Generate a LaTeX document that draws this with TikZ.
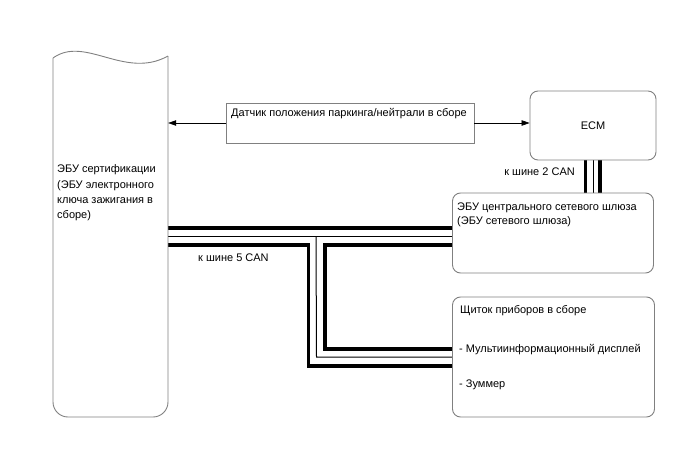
\documentclass[tikz,border=0pt]{standalone}
\usepackage{fontspec}
\setmainfont{Liberation Sans}
\usetikzlibrary{arrows.meta}
\definecolor{boxgray}{RGB}{128,128,128}
\pgfdeclarelayer{bg}
\pgfsetlayers{bg,main}
\begin{document}
\begin{tikzpicture}[x=1pt,y=-1pt,
  boxline/.style={draw=boxgray, line width=0.9pt},
  rbox/.style={boxline, rounded corners=8pt, inner sep=0pt},
  sqbox/.style={boxline, inner sep=0pt},
  lbl/.style={font=\fontsize{11}{13}\selectfont, inner sep=0pt, text height=8pt, text depth=0pt},
  thickbus/.style={line width=3.8pt, black},
  thinbus/.style={line width=1pt, black},
  arr/.style={-{Triangle[length=8pt,width=5.5pt]}, line width=0.6pt, black}]
\useasboundingbox (0,0) rectangle (688,463);

% node frames
\node[inner sep=0pt, minimum width=115pt, minimum height=367pt] (cert) at (110.5,233.5) {};
\node[sqbox, minimum width=248pt, minimum height=40pt] (sensor) at (350,123) {};
\node[rbox, minimum width=126pt, minimum height=69pt] (ecm) at (593,125.5) {};
\node[rbox, minimum width=201pt, minimum height=80pt] (gw) at (553,233) {};
\node[rbox, minimum width=202pt, minimum height=120pt] (meter) at (553.5,357) {};

% bus coordinates
\coordinate (jt) at (316,228);
\coordinate (jm) at (316,236);
\coordinate (jb) at (316,245);
\coordinate (outer) at (308.5,366);
\coordinate (mid) at (316.5,357);
\coordinate (inner) at (325,349);

\begin{pgfonlayer}{bg}
% CAN 2 bus
\draw[thickbus] ([xshift=-7.5pt]ecm.south) -- ([xshift=-7.5pt]ecm.south |- gw.north);
\draw[thinbus] (ecm.south) -- (ecm.south |- gw.north);
\draw[thickbus] ([xshift=7pt]ecm.south) -- ([xshift=7pt]ecm.south |- gw.north);
% CAN 5 bus
\draw[thickbus] (cert.east |- jt) -- (gw.west |- jt);
\draw[thinbus] (cert.east |- jm) -- (gw.west |- jm);
\draw[thinbus] (jm) -- (mid) -- (meter.west |- mid);
\draw[thickbus] (cert.east |- jb) -- (outer |- jb) -- (outer) -- (meter.west |- outer);
\draw[thickbus] (gw.west |- jb) -- (inner |- jb) -- (inner) -- (meter.west |- inner);
\end{pgfonlayer}

% certification ECU outline
\draw[boxline] (53,58) .. controls (85,35) and (125,80) .. (168,56);
\draw[boxline, rounded corners=15pt] (168,56) -- (168,417) -- (53,417) -- (53,58);

% arrows
\draw[arr] (sensor.west) -- (cert.east |- sensor.west);
\draw[arr] (sensor.east) -- (ecm.west |- sensor.east);

% texts
\node[lbl, anchor=west] (t1) at (57,168) {ЭБУ сертификации};
\node[lbl, anchor=west] (t2) at (57,184) {(ЭБУ электронного};
\node[lbl, anchor=west] (t3) at (57,199) {ключа зажигания в};
\node[lbl, anchor=west] (t4) at (57,214) {сборе)};
\node[lbl, anchor=west] (ts) at (231,112) {Датчик положения паркинга/нейтрали в сборе};
\node[lbl] (te) at (ecm) {ECM};
\node[lbl, anchor=east] (c2) at (575,171) {к шине 2 CAN};
\node[lbl, anchor=west] (g1) at (457,206) {ЭБУ центрального сетевого шлюза};
\node[lbl, anchor=west] (g2) at (457,220) {(ЭБУ сетевого шлюза)};
\node[lbl, anchor=west] (c5) at (198,257) {к шине 5 CAN};
\node[lbl, anchor=west] (m1) at (460,309) {Щиток приборов в сборе};
\node[lbl, anchor=west] (m2) at (459,348) {- Мультиинформационный дисплей};
\node[lbl, anchor=west] (m3) at (459,383) {- Зуммер};
\end{tikzpicture}
\end{document}
